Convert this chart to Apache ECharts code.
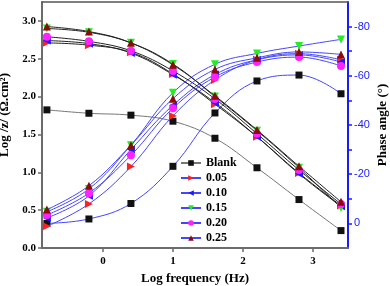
<!DOCTYPE html>
<html><head><meta charset="utf-8">
<script src="https://cdn.jsdelivr.net/npm/echarts@6/dist/echarts.min.js"></script>
<style>html,body{margin:0;padding:0;background:#fff}#c{width:390px;height:286px}</style>
</head><body><div id="c"></div>
<script>
const logFreq = [-0.8, -0.2, 0.4, 1.0, 1.6, 2.2, 2.8, 3.4];
const seriesNames = ['Blank', '0.05', '0.10', '0.15', '0.20', '0.25'];
const logZ_blank = [1.825, 1.78, 1.755, 1.675, 1.45, 1.06, 0.64, 0.23];
const logZ_005 = [2.71, 2.68, 2.585, 2.30, 1.90, 1.47, 0.99, 0.56];
const logZ_010 = [2.74, 2.70, 2.575, 2.29, 1.92, 1.47, 0.98, 0.55];
const logZ_015 = [2.90, 2.85, 2.71, 2.43, 2.00, 1.55, 1.06, 0.53];
const logZ_020 = [2.79, 2.73, 2.605, 2.34, 1.97, 1.51, 1.03, 0.58];
const logZ_025 = [2.925, 2.86, 2.71, 2.42, 2.01, 1.56, 1.08, 0.61];
const phase_blank = [0, -1.8, -8.1, -23.2, -44.9, -57.9, -60.3, -52.7];
const phase_005 = [1.2, -7.9, -23.1, -43.7, -58.3, -66.5, -69.0, -66.5];
const phase_010 = [-2.2, -11.2, -30.0, -48.0, -60.5, -66.5, -68.5, -65.6];
const phase_015 = [-4.7, -14.0, -31.8, -53.1, -64.7, -69.1, -72.1, -74.8];
const phase_020 = [-3.4, -12.3, -27.7, -46.8, -59.5, -65.6, -67.6, -64.0];
const phase_025 = [-5.6, -15.3, -31.8, -50.7, -62.6, -67.3, -69.7, -68.7];
const xTickValues = [0, 1, 2, 3];
const leftTickValues = [0, 0.5, 1.0, 1.5, 2.0, 2.5, 3.0];
const rightLabelValues = [-80, -60, -40, -20, 0];
const rightTickValues = [-80, -70, -60, -50, -40, -30, -20, -10, 0];

const logZ = [logZ_blank, logZ_005, logZ_010, logZ_015, logZ_020, logZ_025];
const phase = [phase_blank, phase_005, phase_010, phase_015, phase_020, phase_025];
const markerColors = ['#111111', '#ff2020', '#1a1aff', '#22ee22', '#ff22ff', '#8b0a0a'];
const markerSymbols = ['rect', 'triangle', 'triangle', 'triangle', 'circle', 'triangle'];
const markerRotate = [0, -90, 90, 180, 0, 0];
const markerSize = [7, 8, 8, 8, 8, 8];

const pair = (xs, ys) => xs.map((x, i) => [x, ys[i]]);
const FONT = 'Liberation Serif';
const GRAY = '#6b6b6b';
const BLUE = '#1a1aff';

const series = [];
seriesNames.forEach((name, k) => {
  const common = {
    name: name, type: 'line', smooth: 0.4,
    symbol: markerSymbols[k], symbolSize: markerSize[k], symbolRotate: markerRotate[k],
    itemStyle: { color: markerColors[k] }, z: 3 + k, animation: false
  };
  const zS = Object.assign({}, common, {
    xAxisIndex: 0, yAxisIndex: 0, data: pair(logFreq, logZ[k]),
    lineStyle: { color: k === 0 ? '#777777' : '#222222', width: 1 }
  });
  const pS = Object.assign({}, common, {
    xAxisIndex: 0, yAxisIndex: 1, data: pair(logFreq, phase[k]),
    lineStyle: { color: '#4545ff', width: 1 }
  });
  if (k === 0) { series.push(zS, pS); } else { series.push(pS, zS); }
});

const chart = echarts.init(document.getElementById('c'), null, { renderer: 'canvas' });
chart.setOption({
  animation: false,
  backgroundColor: '#ffffff',
  grid: { left: 42, right: 42, top: 2, bottom: 38, containLabel: false, outerBoundsMode: 'none' },
  legend: {
    orient: 'vertical', left: 175, top: 152,
    itemWidth: 20, itemHeight: 7, itemGap: 3,
    data: seriesNames,
    textStyle: { fontFamily: FONT, fontWeight: 'bold', fontSize: 12, color: '#000' }
  },
  xAxis: [{
    type: 'value', min: -0.87, max: 3.5,
    name: 'Log frequency (Hz)', nameLocation: 'middle', nameGap: 24,
    nameTextStyle: { fontFamily: FONT, fontWeight: 'bold', fontSize: 13, color: '#000' },
    axisLine: { show: true, onZero: false, lineStyle: { color: GRAY, width: 2 } },
    axisTick: { show: true, length: 4, customValues: xTickValues, lineStyle: { color: GRAY, width: 1.5 } },
    axisLabel: { customValues: xTickValues, fontFamily: FONT, fontWeight: 'bold', fontSize: 11, color: '#000', margin: 8 },
    splitLine: { show: false }
  }, {
    type: 'value', position: 'top', min: -0.87, max: 3.5,
    axisLine: { show: true, onZero: false, lineStyle: { color: '#555', width: 1.5 } },
    axisTick: { show: false }, axisLabel: { show: false }, splitLine: { show: false }
  }],
  yAxis: [{
    type: 'value', min: 0, max: 3.25, position: 'left',
    name: 'Log /z/ (Ω.cm²)', nameLocation: 'middle', nameGap: 24,
    nameTextStyle: { fontFamily: FONT, fontWeight: 'bold', fontSize: 13, color: '#000', padding: [0, 0, 0, 20] },
    axisLine: { show: true, onZero: false, lineStyle: { color: GRAY, width: 2 } },
    axisTick: { show: true, length: 4, customValues: leftTickValues, lineStyle: { color: GRAY, width: 1.5 } },
    axisLabel: { customValues: leftTickValues, formatter: v => v.toFixed(1), fontFamily: FONT, fontWeight: 'bold', fontSize: 11, color: '#000', margin: 6 },
    splitLine: { show: false }
  }, {
    type: 'value', min: -90, max: 10, inverse: true, position: 'right',
    name: 'Phase angle (°)', nameLocation: 'middle', nameGap: 28, nameMoveOverlap: false,
    nameTextStyle: { fontFamily: FONT, fontWeight: 'bold', fontSize: 13, color: '#000' },
    axisLine: { show: true, onZero: false, lineStyle: { color: BLUE, width: 2 } },
    axisTick: { show: true, length: 4, customValues: rightTickValues, lineStyle: { color: BLUE, width: 1.5 } },
    axisLabel: { customValues: rightLabelValues, formatter: v => (Math.abs(v) < 1e-9 ? '0' : '-' + Math.round(Math.abs(v))), fontFamily: 'Liberation Sans', fontSize: 11, color: BLUE, margin: 6 },
    splitLine: { show: false }
  }],
  series: series
});
</script>
</body></html>
